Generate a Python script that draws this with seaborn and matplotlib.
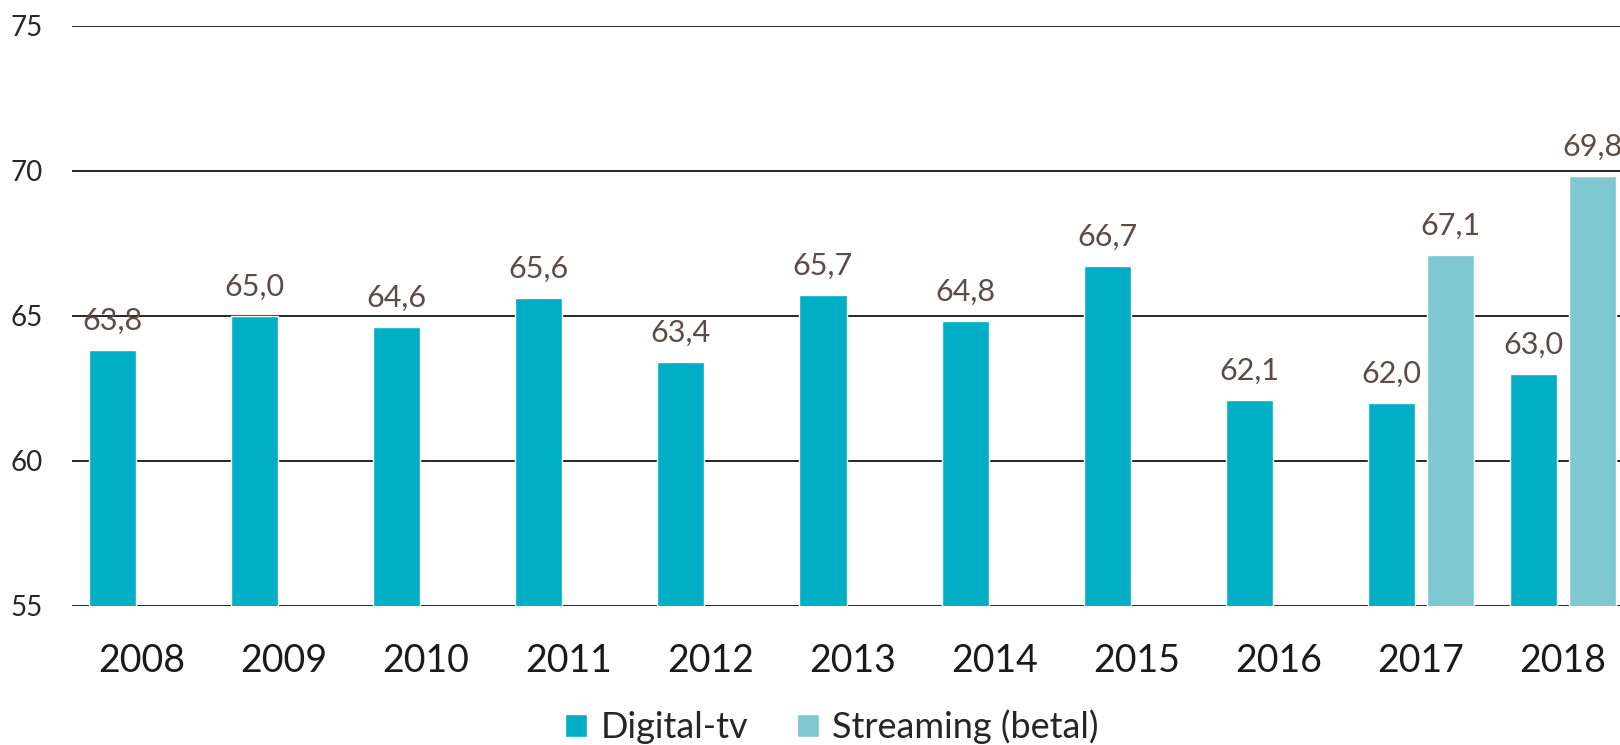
import matplotlib
matplotlib.use("Agg")
import matplotlib.pyplot as plt
import seaborn as sns
import pandas as pd
import numpy as np

years = ['2008', '2009', '2010', '2011', '2012', '2013', '2014', '2015', '2016', '2017', '2018']
digital_tv = [63.8, 65.0, 64.6, 65.6, 63.4, 65.7, 64.8, 66.7, 62.1, 62.0, 63.0]
streaming_years = ['2017', '2018']
streaming = [67.1, 69.8]
series_names = ['Digital-tv', 'Streaming (betal)']
y_ticks = [55, 60, 65, 70, 75]

df = pd.DataFrame({
    'year': years + streaming_years,
    'value': digital_tv + streaming,
    'series': [series_names[0]] * len(years) + [series_names[1]] * len(streaming_years),
})

sns.set_theme(style='white')
plt.rcParams['font.family'] = ['Lato', 'DejaVu Sans']

fig = plt.figure(figsize=(16.2, 7.45), dpi=100)
# axes runs off the right edge, like the cropped reference
ax = fig.add_axes([0.0443, 0.187, 0.9557, 0.7785])

palette = {series_names[0]: '#00AEC5', series_names[1]: '#7FC8D2'}
sns.barplot(data=df, x='year', y='value', hue='series', order=years,
            hue_order=series_names, palette=palette, width=0.83, gap=0.2,
            saturation=1, ax=ax, legend=True)

ax.set_ylim(55, 75)
ax.set_yticks(y_ticks)
ax.set_xlim(-0.493, 10.40)
ax.set_axisbelow(True)
ax.yaxis.grid(True, color='#262626', linewidth=1.4)
ax.xaxis.grid(False)
for s in ax.spines.values():
    s.set_visible(False)
ax.set_xlabel('')
ax.set_ylabel('')
ax.tick_params(axis='y', length=0, pad=21, labelsize=20, labelcolor='#262626')
ax.tick_params(axis='x', length=0, pad=27, labelsize=27, labelcolor='#1a1a1a')

for cont in ax.containers:
    labels = [('%.1f' % v).replace('.', ',') if not np.isnan(v) else '' for v in cont.datavalues]
    ax.bar_label(cont, labels=labels, padding=11, fontsize=22, color='#5A4D48')

handles, labels = ax.get_legend_handles_labels()
ax.legend_.remove()
fig.legend(handles, labels, loc='center', bbox_to_anchor=(0.5136, 0.024), ncol=2,
           frameon=False, fontsize=26, handlelength=0.6, handleheight=0.6,
           handletextpad=0.38, columnspacing=1.35)

fig.savefig('out.png', dpi=100)
